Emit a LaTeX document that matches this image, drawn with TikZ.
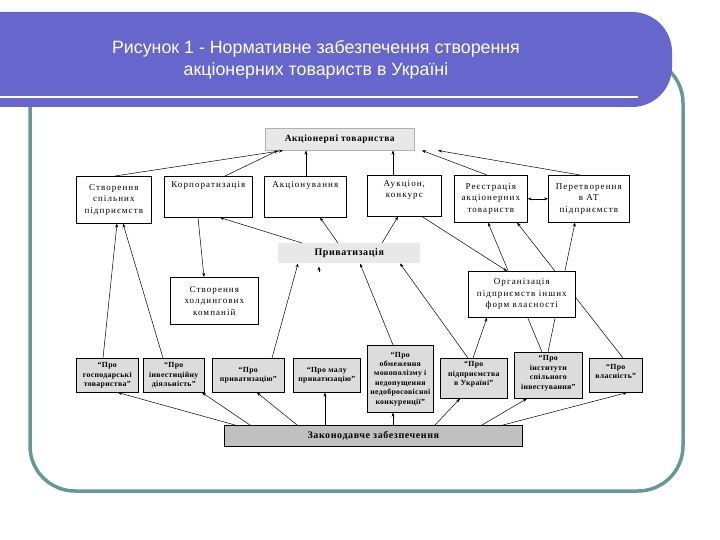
\documentclass[tikz,border=0pt]{standalone}
\usepackage{fontspec}
\usetikzlibrary{arrows.meta}
\newfontfamily\tfont{Liberation Sans}
\newfontfamily\dfont[LetterSpace=12]{Liberation Serif}
\newfontfamily\bfont[LetterSpace=6]{Liberation Serif}
\newfontfamily\lfont[LetterSpace=4]{Liberation Serif}
\definecolor{purp}{RGB}{102,102,204}
\definecolor{framec}{RGB}{104,152,150}
\definecolor{gA}{RGB}{232,232,232}
\definecolor{gB}{RGB}{220,220,220}
\definecolor{gC}{RGB}{192,192,192}
\begin{document}
\begin{tikzpicture}[x=1pt,y=-1pt,
  sz/.style n args={2}{minimum width=#1pt, minimum height=#2pt},
  box/.style={draw=black, line width=0.6pt, fill=white, anchor=north west, inner sep=0pt, align=center, font=\dfont\fontsize{9}{11.5}\selectfont},
  txt/.style={inner sep=0pt, align=center, font=\dfont\fontsize{9}{11.5}\selectfont},
  headbox/.style={draw=gray!60, line width=0.5pt, fill=gA, anchor=north west, inner sep=0pt, font=\bfont\bfseries\fontsize{9.5}{11}\selectfont},
  lawbox/.style={draw=black, line width=0.6pt, fill=gB, anchor=north west, inner sep=0pt, align=center, font=\lfont\bfseries\fontsize{7.8}{9.4}\selectfont},
  lawtxt/.style={inner sep=0pt, align=center, font=\lfont\bfseries\fontsize{7.8}{9.4}\selectfont},
  arr/.style={-{Stealth[length=4pt,width=3pt]}, line width=0.5pt, draw=black},
  darr/.style={{Stealth[length=4pt,width=3pt]}-{Stealth[length=4pt,width=3pt]}, line width=0.5pt, draw=black}
]
\useasboundingbox (0,0) rectangle (720,540);
% slide frame and title band
\draw[framec, line width=3.5pt, rounded corners=45pt] (30,58) rectangle (683,491);
\fill[purp, rounded corners=40pt] (-60,12) rectangle (672,107);
\draw[white, line width=2.5pt] (-5,97) -- (638,97);
\node[font=\tfont\fontsize{17.8}{22}\selectfont, text=white, align=center, inner sep=0pt] (title) at (316,60)
  {Рисунок 1 - Нормативне забезпечення створення\\акціонерних товариств в Україні};

% top
\node[headbox, sz={149}{22}] (at) at (265,128) {Акціонерні товариства};
% row 2
\node[box, sz={75}{47}] (stvor) at (76,176) {Створення\\спільних\\підприємств};
\node[box, sz={88}{41}] (korp) at (164,176) {};
\node[txt, anchor=north] (korpt) at ([yshift=-5pt]korp.north) {Корпоратизація};
\node[box, sz={82}{41}] (akts) at (264,176) {};
\node[txt, anchor=north] (aktst) at ([yshift=-5pt]akts.north) {Акціонування};
\node[box, sz={74}{41}] (auk) at (367,175) {};
\node[txt, anchor=north] (aukt) at ([yshift=-5pt]auk.north) {Аукціон,\\конкурс};
\node[box, sz={73}{47}] (reye) at (454,175) {Реєстрація\\акціонерних\\товариств};
\node[box, sz={81}{47}] (peret) at (548,175) {Перетворення\\в АТ\\підприємств};
% row 3
\node[headbox, draw=none, sz={142}{20}, font=\bfont\bfseries\fontsize{10}{11}\selectfont] (pryv) at (278,243) {Приватизація};
\node[box, sz={88}{47}] (hold) at (170,277) {Створення\\холдингових\\компаній};
% laws
\node[lawbox, sz={62}{34}] (gosp) at (76,358) {“Про\\господарські\\товариства”};
\node[lawbox, sz={61}{34}] (inv) at (143,358) {“Про\\інвестиційну\\діяльність”};
\node[lawbox, sz={72}{34}] (pryvz) at (212,358) {“Про\\приватизацію”};
\node[lawbox, sz={67}{34}] (mala) at (293,358) {“Про малу\\приватизацію”};
\node[lawbox, sz={66}{67}] (obm) at (367,345) {“Про\\обмеження\\монополізму і\\недопущення\\недобросовісної\\конкуренції”};
\node[lawbox, sz={67}{40}] (pidpr) at (440,358) {};
\node[lawtxt] (pidprt) at ([yshift=4pt]pidpr.center) {“Про\\підприємства\\в Україні”};
\node[lawbox, sz={68}{46}] (inst) at (514,352) {};
\node[lawtxt] (instt) at ([yshift=2pt]inst.center) {“Про\\інститути\\спільного\\інвестування”};
\node[lawbox, sz={53}{34}] (vlas) at (589,358) {};
\node[lawtxt] (vlast) at ([yshift=4pt]vlas.center) {“Про\\власність”};
\node[lawbox, sz={298}{21}, fill=gC, font=\bfont\bfseries\fontsize{10}{11}\selectfont] (zak) at (224,425) {Законодавче забезпечення};

% connectors passing behind the organisation box
\draw[arr] ([xshift=28pt]inst.north west) -- ([xshift=34pt]reye.south west);
\draw[arr] ([xshift=34pt]inst.north west) -- ([xshift=27pt]peret.south west);
\draw[arr] ([xshift=34pt]vlas.north west) -- ([xshift=63pt]reye.south west);
\node[box, sz={107}{46}] (org) at (468,271) {Організація\\підприємств інших\\форм власності};

% to joint-stock companies
\draw[arr] ([xshift=39pt]stvor.north west) -- ([xshift=18pt]at.south west);
\draw[arr] ([xshift=61pt]korp.north west) -- ([xshift=13pt]at.south west);
\draw[arr] ([xshift=42pt]akts.north west) -- ([xshift=41pt]at.south west);
\draw[arr] ([xshift=26pt]auk.north west) -- ([xshift=128pt]at.south west);
\draw[arr] ([xshift=33pt]reye.north west) -- ([xshift=157pt]at.south west);
\draw[arr] ([xshift=32pt]peret.north west) -- ([xshift=173pt]at.south west);
\draw[darr] (reye.east) -- (peret.west);
% from privatisation
\draw[arr] ([xshift=24pt]pryv.north west) -- ([xshift=56pt]korp.south west);
\draw[arr] ([xshift=60pt]pryv.north west) -- ([xshift=56pt]akts.south west);
\draw[arr] ([xshift=104pt]pryv.north west) -- ([xshift=31pt]auk.south west);
\draw[arr] ([xshift=34pt]korp.south west) -- ([xshift=34pt]hold.north west);
\draw[arr] ([xshift=55pt]auk.south west) -- ([xshift=39pt]org.north west);
\draw[arr] ([xshift=33pt]pidpr.north west) -- ([xshift=19pt]org.south west);
% into privatisation
\draw[arr] ([xshift=28pt]pidpr.north west) -- ([xshift=122pt]pryv.south west);
\draw[arr] ([xshift=26pt]obm.north west) -- ([xshift=82pt]pryv.south west);
\draw[arr] ([xshift=60pt]pryvz.north west) -- ([xshift=20pt]pryv.south west);
\draw[arr] ([xshift=41pt,yshift=-8pt]pryv.south west) -- ([xshift=41pt,yshift=-3pt]pryv.south west);
% into joint ventures
\draw[arr] ([xshift=27pt]gosp.north west) -- ([xshift=41pt]stvor.south west);
\draw[arr] ([xshift=20pt]inv.north west) -- ([xshift=47pt]stvor.south west);
% from legislation
\draw[arr] ([xshift=11pt]zak.north west) -- ([xshift=42pt]gosp.south west);
\draw[arr] ([xshift=26pt]zak.north west) -- ([xshift=59pt]inv.south west);
\draw[arr] ([xshift=73pt]zak.north west) -- ([xshift=45pt]pryvz.south west);
\draw[arr] ([xshift=101pt]zak.north west) -- ([xshift=32pt]mala.south west);
\draw[arr] ([xshift=169pt]zak.north west) -- ([xshift=26pt]obm.south west);
\draw[arr] ([xshift=211pt]zak.north west) -- ([xshift=20pt]pidpr.south west);
\draw[arr] ([xshift=258pt]zak.north west) -- ([xshift=13pt]inst.south west);
\draw[arr] ([xshift=279pt]zak.north west) -- ([xshift=38pt]vlas.south west);
\end{tikzpicture}
\end{document}
